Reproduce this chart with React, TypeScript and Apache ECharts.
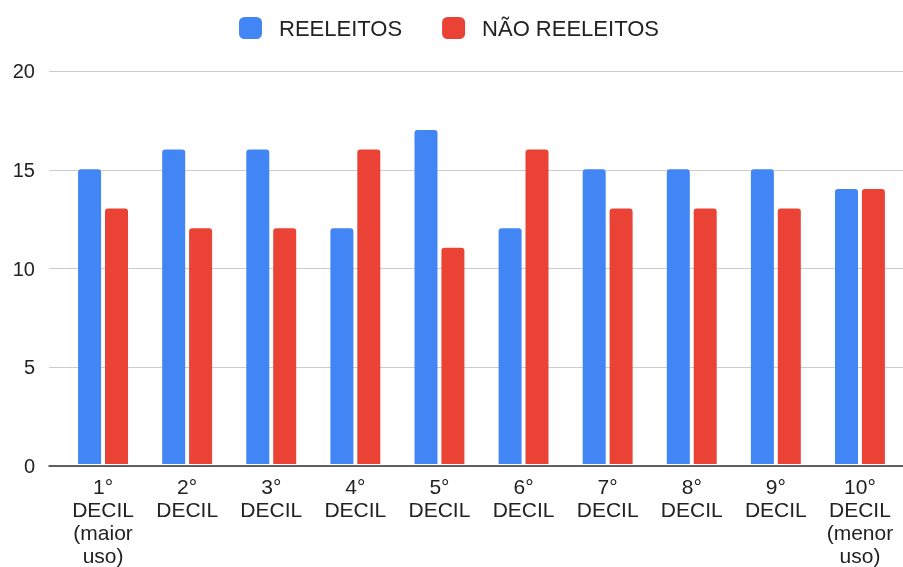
import React, { useEffect, useRef } from "react";
import * as echarts from "echarts";

const categories = [
  "1°\nDECIL\n(maior\nuso)",
  "2°\nDECIL",
  "3°\nDECIL",
  "4°\nDECIL",
  "5°\nDECIL",
  "6°\nDECIL",
  "7°\nDECIL",
  "8°\nDECIL",
  "9°\nDECIL",
  "10°\nDECIL\n(menor\nuso)",
];
const reeleitos = [15, 16, 16, 12, 17, 12, 15, 15, 15, 14];
const naoReeleitos = [13, 12, 12, 16, 11, 16, 13, 13, 13, 14];
const seriesNames = ["REELEITOS", "NÃO REELEITOS"];
const seriesColors = ["#4285F4", "#EA4335"];

const FONT = "'Liberation Sans', Arial, sans-serif";

export default function App() {
  const ref = useRef<HTMLDivElement>(null);
  useEffect(() => {
    if (!ref.current) return;
    const chart = echarts.init(ref.current, undefined, { renderer: "svg" });
    chart.setOption({
      animation: false,
      textStyle: { fontFamily: FONT },
      legend: {
        left: 234,
        top: 12,
        itemWidth: 23,
        itemHeight: 22,
        itemGap: 40,
        icon: "roundRect",
        textStyle: {
          fontSize: 22,
          color: "#222",
          fontFamily: FONT,
          padding: [0, 0, 0, 12],
        },
        data: seriesNames,
      },
      grid: [
        { left: 49, right: 0, top: 71, bottom: 101 },
        { left: 61, right: 1, top: 71, bottom: 101 },
      ],
      xAxis: [
        {
          gridIndex: 0,
          type: "value",
          min: 0,
          max: 1,
          axisLine: { show: true, lineStyle: { color: "#333", width: 1.5 } },
          axisTick: { show: false },
          axisLabel: { show: false },
          splitLine: { show: false },
          z: 5,
        },
        {
          gridIndex: 1,
          type: "category",
          data: categories,
          axisLine: { show: false },
          axisTick: { show: false },
          axisLabel: {
            fontSize: 21,
            lineHeight: 23,
            color: "#222",
            fontFamily: FONT,
            margin: 11,
            interval: 0,
          },
        },
      ],
      yAxis: [
        {
          gridIndex: 0,
          type: "value",
          min: 0,
          max: 20,
          interval: 5,
          axisLine: { show: false },
          axisTick: { show: false },
          axisLabel: {
            fontSize: 20,
            color: "#222",
            fontFamily: FONT,
            margin: 14,
          },
          splitLine: { show: true, lineStyle: { color: "#cccccc", width: 1 } },
        },
        {
          gridIndex: 1,
          type: "value",
          min: 0,
          max: 20,
          interval: 5,
          axisLine: { show: false },
          axisTick: { show: false },
          axisLabel: { show: false },
          splitLine: { show: false },
        },
      ],
      series: [
        {
          name: seriesNames[0],
          type: "bar",
          xAxisIndex: 1,
          yAxisIndex: 1,
          data: reeleitos,
          barWidth: 23,
          barGap: "17%",
          itemStyle: { color: seriesColors[0], borderRadius: [3, 3, 0, 0] },
        },
        {
          name: seriesNames[1],
          type: "bar",
          xAxisIndex: 1,
          yAxisIndex: 1,
          data: naoReeleitos,
          barWidth: 23,
          barGap: "17%",
          itemStyle: { color: seriesColors[1], borderRadius: [3, 3, 0, 0] },
        },
      ],
    });
    return () => chart.dispose();
  }, []);
  return (
    <div
      ref={ref}
      style={{ position: "fixed", left: 0, top: 0, width: 903, height: 567 }}
    />
  );
}
